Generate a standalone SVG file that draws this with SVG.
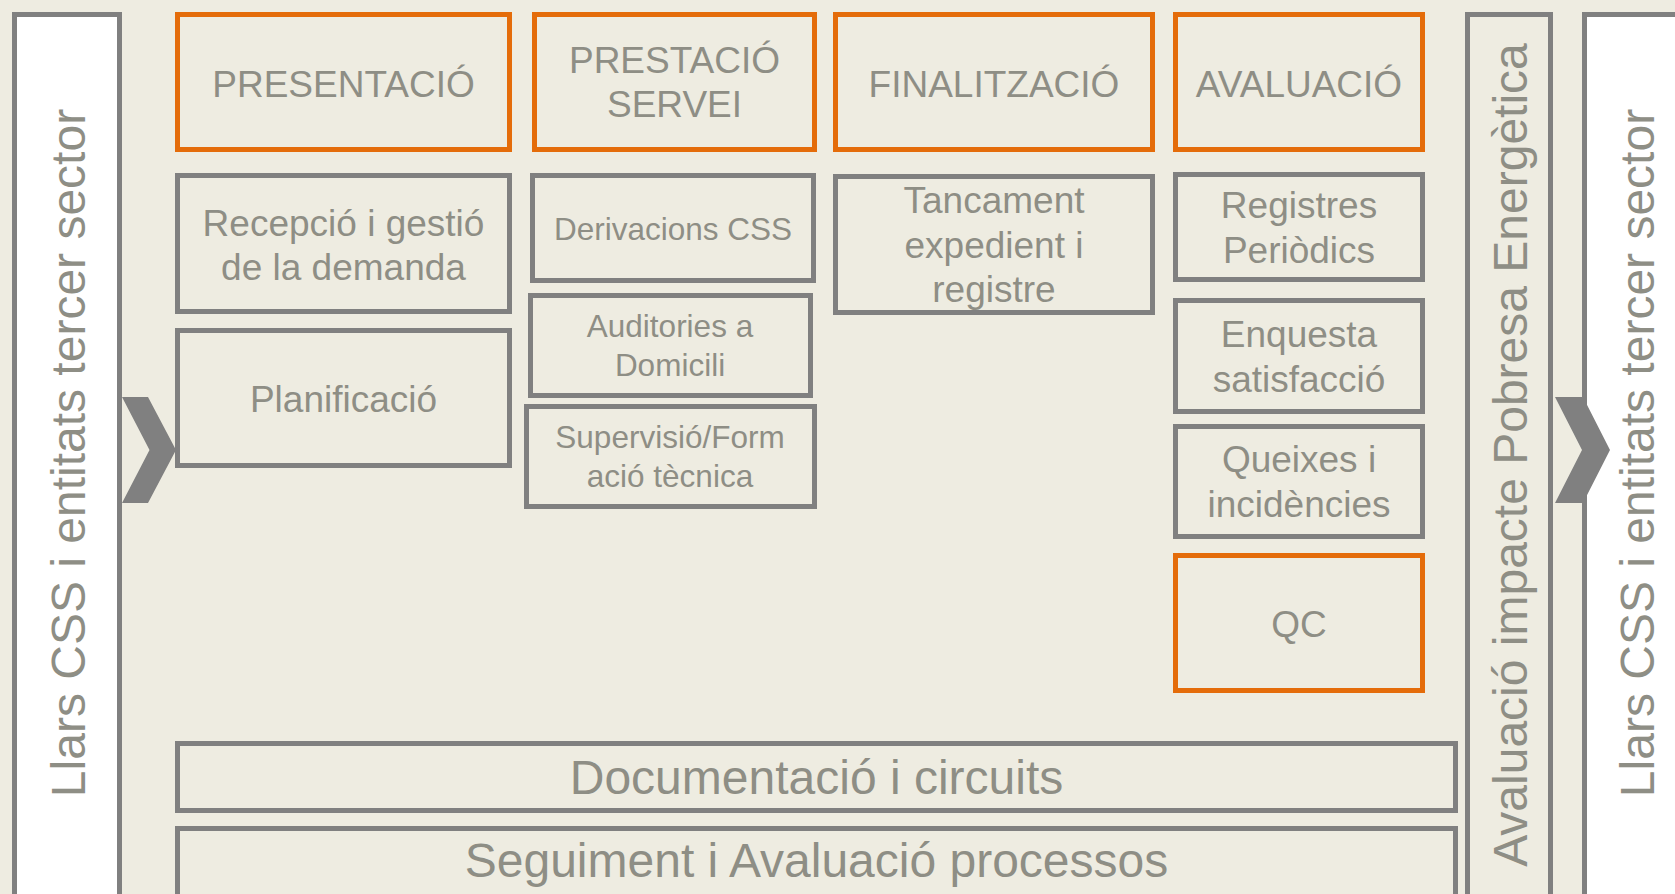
<svg xmlns="http://www.w3.org/2000/svg" width="1675" height="894" viewBox="0 0 1675 894">
<style>
.bg{fill:#EEECE1}
.box{fill:#EEECE1;stroke:#808080;stroke-width:5}
.hdr{fill:#EEECE1;stroke:#E46C0A;stroke-width:5}
.side{fill:#FFFFFF;stroke:#808080;stroke-width:5}
.chev{fill:#808080}
text{font-family:"Liberation Sans",Arial,sans-serif;fill:#8E8E85;text-anchor:middle}
.t36{font-size:37px}
.t37{font-size:37px}
.t31{font-size:31.5px}
.t47{font-size:48px}
</style>
<rect class="bg" x="0" y="0" width="1675" height="894"/>

<g id="panel-left">
<rect class="side" x="14.5" y="14.5" width="105" height="900"/>
<text class="t47" transform="translate(85,453) rotate(-90)">Llars CSS i entitats tercer sector</text>
</g>
<g id="panel-impacte">
<rect class="box" x="1467.5" y="14.5" width="83" height="900"/>
<text class="t47" transform="translate(1527,455) rotate(-90)">Avaluació impacte Pobresa Energètica</text>
</g>
<g id="panel-right">
<rect class="side" x="1584.5" y="14.5" width="200" height="900"/>
<text class="t47" transform="translate(1654,453) rotate(-90)">Llars CSS i entitats tercer sector</text>
</g>

<g id="connectors">
<polygon class="chev" points="122,397 148,397 176,450 148,503 122,503 149.5,450"/>
<polygon class="chev" points="1555,397 1583,397 1610,450 1583,503 1555,503 1582,450"/>
</g>

<g id="presentacio">
<rect class="hdr" x="177.5" y="14.5" width="332" height="135"/>
<text class="t36" x="343.5" y="97">PRESENTACIÓ</text>
</g>
<g id="prestacio">
<rect class="hdr" x="534.5" y="14.5" width="280" height="135"/>
<text class="t36" x="674.5" y="72.7">PRESTACIÓ</text>
<text class="t36" x="674.5" y="117.3">SERVEI</text>
</g>
<g id="finalitzacio">
<rect class="hdr" x="835.5" y="14.5" width="317" height="135"/>
<text class="t36" x="994" y="97">FINALITZACIÓ</text>
</g>
<g id="avaluacio">
<rect class="hdr" x="1175.5" y="14.5" width="247" height="135"/>
<text class="t36" x="1299" y="97">AVALUACIÓ</text>
</g>

<g id="recepcio">
<rect class="box" x="177.5" y="175.5" width="332" height="136"/>
<text class="t37" x="343.5" y="236">Recepció i gestió</text>
<text class="t37" x="343.5" y="280">de la demanda</text>
</g>
<g id="planificacio">
<rect class="box" x="177.5" y="330.5" width="332" height="135"/>
<text class="t37" x="343.5" y="411.7">Planificació</text>
</g>

<g id="derivacions">
<rect class="box" x="532.5" y="175.5" width="281" height="105"/>
<text class="t31" x="673" y="239.5">Derivacions CSS</text>
</g>
<g id="auditories">
<rect class="box" x="530.5" y="295.5" width="280" height="100"/>
<text class="t31" x="670" y="337.3">Auditories a</text>
<text class="t31" x="670" y="376">Domicili</text>
</g>
<g id="supervisio">
<rect class="box" x="526.5" y="406.5" width="288" height="100"/>
<text class="t31" x="670" y="448.3">Supervisió/Form</text>
<text class="t31" x="670" y="486.7">ació tècnica</text>
</g>

<g id="tancament">
<rect class="box" x="835.5" y="176.5" width="317" height="136"/>
<text class="t36" x="994" y="213.3">Tancament</text>
<text class="t36" x="994" y="258.3">expedient i</text>
<text class="t36" x="994" y="301.7">registre</text>
</g>

<g id="registres">
<rect class="box" x="1175.5" y="174.5" width="247" height="105"/>
<text class="t36" x="1299" y="218.3">Registres</text>
<text class="t36" x="1299" y="262.7">Periòdics</text>
</g>
<g id="enquesta">
<rect class="box" x="1175.5" y="300.5" width="247" height="111"/>
<text class="t36" x="1299" y="346.7">Enquesta</text>
<text class="t36" x="1299" y="391.7">satisfacció</text>
</g>
<g id="queixes">
<rect class="box" x="1175.5" y="426.5" width="247" height="110"/>
<text class="t36" x="1299" y="472">Queixes i</text>
<text class="t36" x="1299" y="517">incidències</text>
</g>
<g id="qc">
<rect class="hdr" x="1175.5" y="555.5" width="247" height="135"/>
<text class="t36" x="1299" y="637">QC</text>
</g>

<g id="documentacio">
<rect class="box" x="177.5" y="743.5" width="1278" height="67"/>
<text class="t47" x="816.5" y="794.3">Documentació i circuits</text>
</g>
<g id="seguiment">
<rect class="box" x="177.5" y="828.5" width="1278" height="100"/>
<text class="t47" x="816.5" y="876.7">Seguiment i Avaluació processos</text>
</g>
</svg>
